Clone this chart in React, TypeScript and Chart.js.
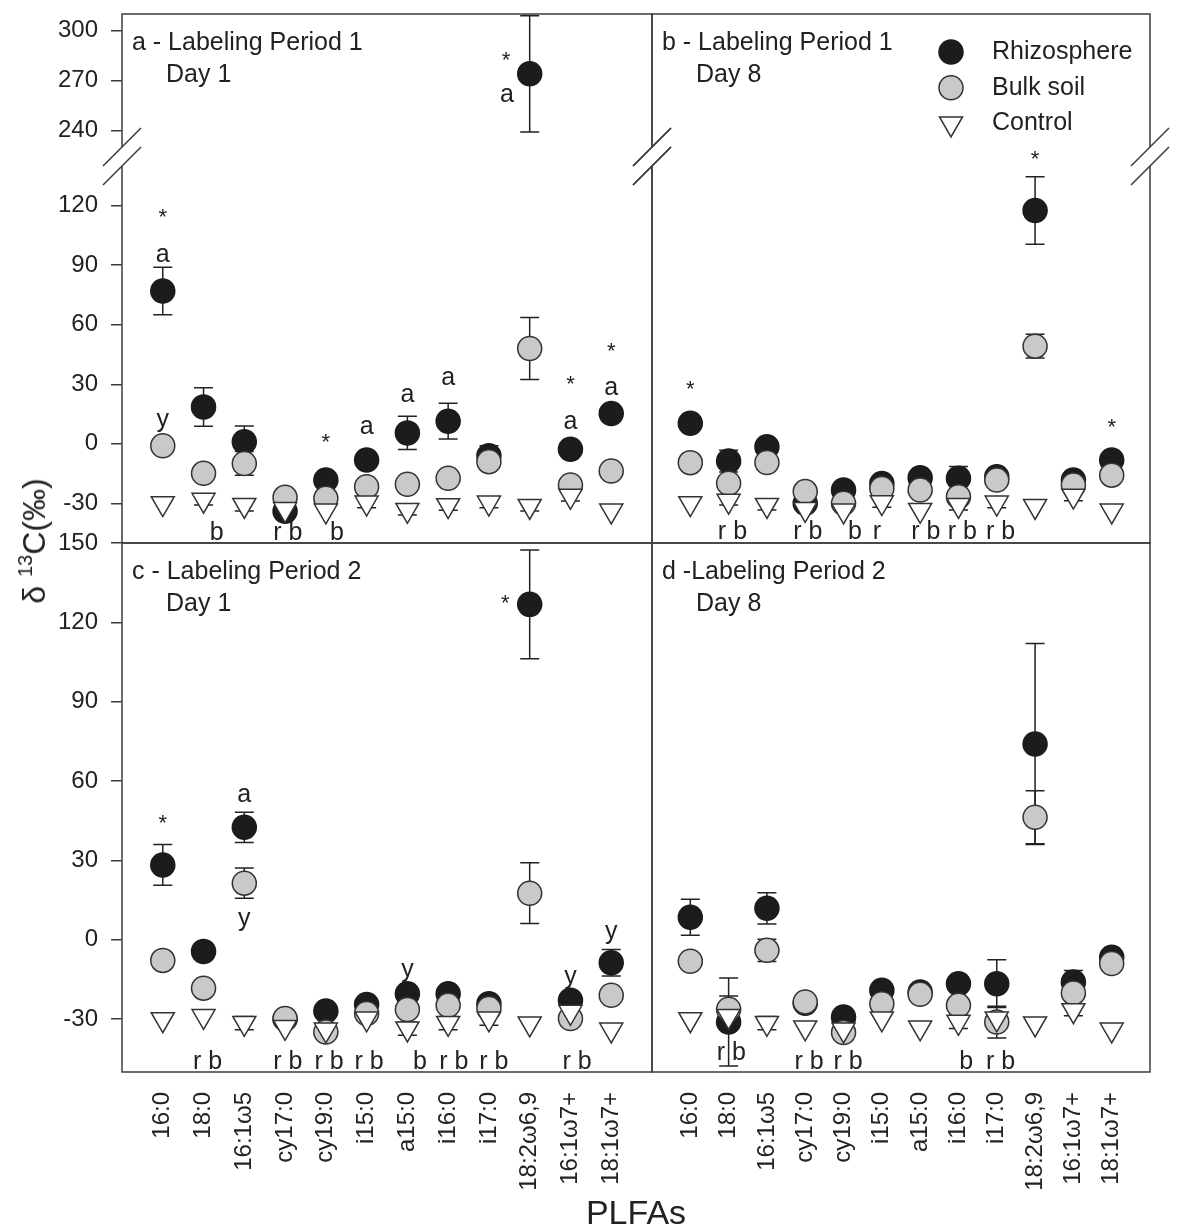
import React, { useEffect, useRef } from 'react';
import { Chart, registerables } from 'chart.js';

Chart.register(...registerables);

const FONT = '"Liberation Sans", Arial, Helvetica, sans-serif';
const TEXT = '#222222';
const W = 1194;
const H = 1231;

// ---------------- data ----------------
const categories = ['16:0', '18:0', '16:1ω5', 'cy17:0', 'cy19:0', 'i15:0', 'a15:0', 'i16:0', 'i17:0', '18:2ω6,9', '16:1ω7+', '18:1ω7+'];
const seriesNames = ['Rhizosphere', 'Bulk soil', 'Control'];
const ticksUpper = [240, 270, 300];
const ticksLowerTop = [-30, 0, 30, 60, 90, 120];
const ticksBottom = [-30, 0, 30, 60, 90, 120, 150];

// Panel a - Labeling Period 1, Day 1
const aRhizo = [77, 18.6, 1, -34, -18.3, -8.2, 5.5, 11.4, -6, 274, -2.7, 15.3];
const aRhizoErr = [12, 9.7, 8, 0, 0, 0, 8.4, 9, 5, 35, 0, 0];
const aBulk = [-1, -14.9, -9.9, -27, -27.5, -21.6, -20.4, -17.4, -9, 48, -20.8, -13.7];
const aBulkErr = [0, 3, 6, 0, 0, 0, 0, 0, 0, 15.6, 0, 0];
const aControl = [-30, -28.3, -30.9, -33, -33.7, -29.7, -33.4, -31, -29.7, -31.4, -26.3, -33.7];
const aControlErr = [0, 2.5, 3, 0, 0, 2.5, 2.5, 2.5, 2.5, 2.5, 2.5, 0];

// Panel b - Labeling Period 1, Day 8
const bRhizo = [10.3, -8.7, -1.5, -30, -23.3, -20, -17.1, -17.4, -16.6, 117.6, -18.3, -8.2];
const bRhizoErr = [0, 5.5, 0, 0, 0, 0, 0, 6, 0, 17, 0, 0];
const bBulk = [-9.5, -19.9, -9.4, -24.1, -30, -22.5, -23.3, -26.7, -18.3, 49.2, -20.8, -15.8];
const bBulkErr = [0, 0, 3, 0, 0, 0, 0, 0, 3, 6, 0, 0];
const bControl = [-30, -28.8, -30.9, -32.9, -33.7, -29.5, -33.4, -30.9, -29.7, -31.4, -26.2, -33.7];
const bControlErr = [0, 2, 2.5, 0, 0, 2.5, 0, 2.5, 2.5, 0, 2.5, 0];

// Panel c - Labeling Period 2, Day 1
const cRhizo = [28.3, -4.4, 42.5, -30, -26.9, -24.5, -20.4, -20.4, -24.2, 126.8, -22.9, -8.7];
const cRhizoErr = [7.7, 2, 5.7, 0, 0, 0, 0, 0, 0, 20.6, 3, 5];
const cBulk = [-7.8, -18.3, 21.4, -29.8, -34.9, -27.9, -26.4, -24.8, -26, 17.6, -29.8, -21];
const cBulkErr = [0, 0, 5.7, 0, 0, 0, 0, 0, 0, 11.5, 0, 0];
const cControl = [-30.1, -28.9, -31.5, -33, -34, -29.8, -33.6, -31.5, -29.8, -31.7, -27.3, -34];
const cControlErr = [0, 0, 2.5, 0, 0, 0, 2.5, 2.5, 2.5, 0, 0, 0];

// Panel d - Labeling Period 2, Day 8
const dRhizo = [8.5, -31.1, 11.9, -24, -29.2, -19.1, -19.8, -16.6, -16.6, 74, -16, -6.6];
const dRhizoErr = [6.8, 16.6, 5.9, 0, 0, 0, 0, 0, 9, 38, 4.4, 0];
const dBulk = [-8.1, -26.3, -4, -23.5, -35.1, -24.2, -20.6, -24.8, -31.1, 46.3, -20.1, -9];
const dBulkErr = [0, 5, 4.2, 0, 0, 0, 0, 0, 6, 10, 0, 0];
const dControl = [-30.1, -28.9, -31.5, -33.2, -34, -29.8, -33.2, -31.1, -29.8, -31.7, -26.7, -34];
const dControlErr = [0, 0, 2.5, 0, 0, 0, 0, 2.5, 0, 0, 2, 0];

// significance annotations: category index (fractional), value, text
type Note = { i: number; v: number; t: string };
const aNotes: Note[] = [
  { i: 0, v: 113.6, t: '*' }, { i: 0, v: 95, t: 'a' }, { i: 0, v: 11.9, t: 'y' },
  { i: 1.32, v: -45, t: 'b' }, { i: 3.07, v: -45, t: 'r b' },
  { i: 4, v: 0.4, t: '*' }, { i: 4.27, v: -45, t: 'b' },
  { i: 5, v: 8.6, t: 'a' }, { i: 6, v: 24.5, t: 'a' }, { i: 7, v: 33.2, t: 'a' },
  { i: 8.42, v: 282, t: '*' }, { i: 8.44, v: 261, t: 'a' },
  { i: 10, v: 29.5, t: '*' }, { i: 10, v: 11.1, t: 'a' },
  { i: 11, v: 46.3, t: '*' }, { i: 11, v: 27.9, t: 'a' },
];
const bNotes: Note[] = [
  { i: 0, v: 27, t: '*' }, { i: 1.1, v: -44.3, t: 'r b' }, { i: 3.07, v: -44.3, t: 'r b' },
  { i: 4.3, v: -44.3, t: 'b' }, { i: 4.87, v: -44.3, t: 'r' },
  { i: 6.15, v: -44.3, t: 'r b' }, { i: 7.1, v: -44.3, t: 'r b' }, { i: 8.1, v: -44.3, t: 'r b' },
  { i: 9, v: 143, t: '*' }, { i: 11, v: 8, t: '*' },
];
const cNotes: Note[] = [
  { i: 0, v: 43.8, t: '*' }, { i: 1.1, v: -46.2, t: 'r b' },
  { i: 2, v: 54.5, t: 'a' }, { i: 2, v: 7.9, t: 'y' },
  { i: 3.07, v: -46.2, t: 'r b' }, { i: 4.08, v: -46.2, t: 'r b' }, { i: 5.06, v: -46.2, t: 'r b' },
  { i: 6, v: -11.6, t: 'y' }, { i: 6.31, v: -46.2, t: 'b' },
  { i: 7.14, v: -46.2, t: 'r b' }, { i: 8.12, v: -46.2, t: 'r b' },
  { i: 8.4, v: 126.9, t: '*' },
  { i: 10, v: -14.1, t: 'y' }, { i: 10.16, v: -46.2, t: 'r b' },
  { i: 11, v: 2.9, t: 'y' },
];
const dNotes: Note[] = [
  { i: 1.07, v: -43, t: 'r b' }, { i: 3.1, v: -46.2, t: 'r b' }, { i: 4.12, v: -46.2, t: 'r b' },
  { i: 7.2, v: -46.2, t: 'b' }, { i: 8.1, v: -46.2, t: 'r b' },
];

const aTitle = ['a - Labeling Period 1', 'Day 1'];
const bTitle = ['b - Labeling Period 1', 'Day 8'];
const cTitle = ['c - Labeling Period 2', 'Day 1'];
const dTitle = ['d -Labeling Period 2', 'Day 8'];

// ---------------- layout ----------------
const PL = 122; // left plot edge
const PM = 652; // middle divider
const PR = 1150; // right plot edge
const PT = 14; // top
const BRK_HI = 147; // bottom of upper segment
const BRK_LO = 166; // top of lower segment
const PMY = 543; // middle horizontal divider
const XAXIS_H = 159; // bottom axis height => plot bottom 1072

type Series = { rhizo: number[]; rhizoErr: number[]; bulk: number[]; bulkErr: number[]; control: number[]; controlErr: number[] };
type Spec = {
  key: string;
  part: 'upper' | 'lower' | 'all';
  pad: { left: number; top: number; right: number; bottom: number };
  yMin: number; yMax: number; yTicks: number[] | null; showX: boolean;
  series: Series; notes: Note[]; title: string[] | null; legend: boolean;
  frameTop: boolean; frameBottom: boolean; breaks: boolean;
};

const panelA: Series = { rhizo: aRhizo, rhizoErr: aRhizoErr, bulk: aBulk, bulkErr: aBulkErr, control: aControl, controlErr: aControlErr };
const panelB: Series = { rhizo: bRhizo, rhizoErr: bRhizoErr, bulk: bBulk, bulkErr: bBulkErr, control: bControl, controlErr: bControlErr };
const panelC: Series = { rhizo: cRhizo, rhizoErr: cRhizoErr, bulk: cBulk, bulkErr: cBulkErr, control: cControl, controlErr: cControlErr };
const panelD: Series = { rhizo: dRhizo, rhizoErr: dRhizoErr, bulk: dBulk, bulkErr: dBulkErr, control: dControl, controlErr: dControlErr };

const specs: Spec[] = [
  { key: 'aU', part: 'upper', pad: { left: 0, top: PT, right: W - PM, bottom: H - BRK_HI }, yMin: 230, yMax: 310, yTicks: ticksUpper, showX: false, series: panelA, notes: aNotes, title: aTitle, legend: false, frameTop: true, frameBottom: false, breaks: false },
  { key: 'aL', part: 'lower', pad: { left: 0, top: BRK_LO, right: W - PM, bottom: H - PMY }, yMin: -50, yMax: 140, yTicks: ticksLowerTop, showX: false, series: panelA, notes: aNotes, title: null, legend: false, frameTop: false, frameBottom: true, breaks: true },
  { key: 'bU', part: 'upper', pad: { left: PM, top: PT, right: W - PR, bottom: H - BRK_HI }, yMin: 230, yMax: 310, yTicks: null, showX: false, series: panelB, notes: bNotes, title: bTitle, legend: true, frameTop: true, frameBottom: false, breaks: false },
  { key: 'bL', part: 'lower', pad: { left: PM, top: BRK_LO, right: W - PR, bottom: H - PMY }, yMin: -50, yMax: 140, yTicks: null, showX: false, series: panelB, notes: bNotes, title: null, legend: false, frameTop: false, frameBottom: true, breaks: true },
  { key: 'c', part: 'all', pad: { left: 0, top: PMY, right: W - PM, bottom: 0 }, yMin: -50, yMax: 150, yTicks: ticksBottom, showX: true, series: panelC, notes: cNotes, title: cTitle, legend: false, frameTop: true, frameBottom: true, breaks: false },
  { key: 'd', part: 'all', pad: { left: PM, top: PMY, right: W - PR, bottom: 0 }, yMin: -50, yMax: 150, yTicks: null, showX: true, series: panelD, notes: dNotes, title: dTitle, legend: false, frameTop: true, frameBottom: true, breaks: false },
];

const RHIZO_COLOR = '#1c1c1c';
const BULK_COLOR = '#c9c9c9';
const EDGE = '#333333';
const CIRCLE_R = 12;
const TRI_R = 13.3;

function drawMarker(ctx: CanvasRenderingContext2D, kind: number, x: number, y: number) {
  ctx.save();
  ctx.lineWidth = 1.5;
  ctx.beginPath();
  if (kind === 2) {
    const s = TRI_R * Math.sin(Math.PI / 3);
    ctx.moveTo(x, y + TRI_R);
    ctx.lineTo(x - s, y - TRI_R / 2);
    ctx.lineTo(x + s, y - TRI_R / 2);
    ctx.closePath();
    ctx.fillStyle = '#ffffff';
    ctx.strokeStyle = EDGE;
  } else {
    ctx.arc(x, y, CIRCLE_R, 0, Math.PI * 2);
    ctx.fillStyle = kind === 0 ? RHIZO_COLOR : BULK_COLOR;
    ctx.strokeStyle = kind === 0 ? RHIZO_COLOR : EDGE;
  }
  ctx.fill();
  ctx.stroke();
  ctx.restore();
}

function makePlugin(spec: Spec) {
  const inPart = (v: number) => (spec.part === 'upper' ? v >= 200 : spec.part === 'lower' ? v < 200 : true);
  return {
    id: 'deco_' + spec.key,
    beforeDatasetsDraw(chart: any) {
      const ctx: CanvasRenderingContext2D = chart.ctx;
      const xs = chart.scales.x;
      const ys = chart.scales.y;
      ctx.save();
      ctx.strokeStyle = '#222';
      ctx.lineWidth = 1.5;
      chart.data.datasets.forEach((ds: any) => {
        ds.data.forEach((p: any) => {
          if (!p.e) return;
          const x = xs.getPixelForValue(p.x);
          const y1 = ys.getPixelForValue(p.y - p.e);
          const y2 = ys.getPixelForValue(p.y + p.e);
          ctx.beginPath();
          ctx.moveTo(x, y1); ctx.lineTo(x, y2);
          ctx.moveTo(x - 9.5, y1); ctx.lineTo(x + 9.5, y1);
          ctx.moveTo(x - 9.5, y2); ctx.lineTo(x + 9.5, y2);
          ctx.stroke();
        });
      });
      ctx.restore();
    },
    afterDraw(chart: any) {
      const ctx: CanvasRenderingContext2D = chart.ctx;
      const { left, right, top, bottom } = chart.chartArea;
      const xs = chart.scales.x;
      const ys = chart.scales.y;
      ctx.save();
      // frame
      ctx.strokeStyle = '#3c3c3c';
      ctx.lineWidth = 1.5;
      ctx.beginPath();
      ctx.moveTo(left, top); ctx.lineTo(left, bottom);
      ctx.moveTo(right, top); ctx.lineTo(right, bottom);
      if (spec.frameTop) { ctx.moveTo(left - 0.75, top); ctx.lineTo(right + 0.75, top); }
      if (spec.frameBottom) { ctx.moveTo(left - 0.75, bottom); ctx.lineTo(right + 0.75, bottom); }
      ctx.stroke();
      if (spec.breaks) {
        const g = BRK_LO - BRK_HI;
        ctx.beginPath();
        [left, right].forEach((x) => {
          ctx.moveTo(x - 19, top); ctx.lineTo(x + 19, top - 2 * g);
          ctx.moveTo(x - 19, top + g); ctx.lineTo(x + 19, top - g);
        });
        ctx.stroke();
      }
      // notes
      ctx.fillStyle = TEXT;
      ctx.textAlign = 'center';
      ctx.textBaseline = 'middle';
      spec.notes.forEach((n) => {
        if (!inPart(n.v)) return;
        ctx.font = n.t === '*' ? `22px ${FONT}` : `25px ${FONT}`;
        ctx.fillText(n.t, xs.getPixelForValue(n.i), ys.getPixelForValue(n.v));
      });
      // panel title
      if (spec.title) {
        ctx.textAlign = 'left';
        ctx.font = `25px ${FONT}`;
        ctx.fillText(spec.title[0], left + 10, top + 29);
        ctx.fillText(spec.title[1], left + 44, top + 61);
      }
      // legend
      if (spec.legend) {
        ctx.textAlign = 'left';
        ctx.font = `25px ${FONT}`;
        seriesNames.forEach((name, k) => {
          const y = top + 38 + k * 35.8;
          drawMarker(ctx, k, left + 299, y);
          ctx.fillStyle = TEXT;
          ctx.fillText(name, left + 340, y);
        });
      }
      ctx.restore();
    },
  };
}

function buildConfig(spec: Spec): any {
  const inPart = (v: number) => (spec.part === 'upper' ? v >= 200 : spec.part === 'lower' ? v < 200 : true);
  const mk = (vals: number[], errs: number[]) =>
    vals.map((v, i) => ({ x: i, y: v, e: errs[i] })).filter((p) => inPart(p.y));
  const s = spec.series;
  const datasets = [
    {
      label: seriesNames[2], data: mk(s.control, s.controlErr),
      pointStyle: 'triangle', pointRotation: 180, pointRadius: TRI_R, pointHoverRadius: TRI_R,
      pointBackgroundColor: '#ffffff', pointBorderColor: EDGE, pointBorderWidth: 1.5,
      backgroundColor: '#ffffff', borderColor: EDGE, clip: false,
    },
    {
      label: seriesNames[1], data: mk(s.bulk, s.bulkErr),
      pointStyle: 'circle', pointRadius: CIRCLE_R, pointHoverRadius: CIRCLE_R,
      pointBackgroundColor: BULK_COLOR, pointBorderColor: EDGE, pointBorderWidth: 1.5,
      backgroundColor: BULK_COLOR, borderColor: EDGE, clip: false,
    },
    {
      label: seriesNames[0], data: mk(s.rhizo, s.rhizoErr),
      pointStyle: 'circle', pointRadius: CIRCLE_R, pointHoverRadius: CIRCLE_R,
      pointBackgroundColor: RHIZO_COLOR, pointBorderColor: RHIZO_COLOR, pointBorderWidth: 1.5,
      backgroundColor: RHIZO_COLOR, borderColor: RHIZO_COLOR, clip: false,
    },
  ];
  const yTicks = spec.yTicks;
  const showX = spec.showX;
  return {
    type: 'scatter',
    data: { datasets },
    options: {
      responsive: false,
      maintainAspectRatio: false,
      animation: false,
      events: [],
      devicePixelRatio: 1,
      layout: { padding: spec.pad },
      plugins: { legend: { display: false }, tooltip: { enabled: false }, title: { display: false } },
      scales: {
        x: {
          type: 'linear', min: -1, max: 12, position: 'bottom',
          display: showX,
          afterBuildTicks: (sc: any) => { sc.ticks = categories.map((_, i) => ({ value: i })); },
          afterFit: (sc: any) => {
            sc.height = showX ? XAXIS_H : 0;
            sc.paddingLeft = 0; sc.paddingRight = 0; sc.paddingTop = 0; sc.paddingBottom = 0;
          },
          ticks: {
            autoSkip: false, minRotation: 90, maxRotation: 90, padding: 20,
            color: TEXT, font: { family: FONT, size: 24, lineHeight: 1 },
            callback: (v: any) => categories[v] ?? '',
          },
          grid: { display: false, drawTicks: false },
          border: { display: false },
        },
        y: {
          type: 'linear', min: spec.yMin, max: spec.yMax, position: 'left',
          display: !!yTicks,
          afterBuildTicks: (sc: any) => { if (yTicks) sc.ticks = yTicks.map((v) => ({ value: v })); },
          afterFit: (sc: any) => {
            sc.width = yTicks ? PL : 0;
            sc.paddingLeft = 0; sc.paddingRight = 0; sc.paddingTop = 0; sc.paddingBottom = 0;
          },
          ticks: { autoSkip: false, padding: 13, color: TEXT, font: { family: FONT, size: 24, lineHeight: 1 } },
          grid: { display: true, drawOnChartArea: false, drawTicks: true, tickLength: 11, color: '#3c3c3c', lineWidth: 1.5 },
          border: { display: false },
        },
      },
    },
    plugins: [makePlugin(spec)],
  };
}

function PanelChart({ spec }: { spec: Spec }) {
  const ref = useRef<HTMLCanvasElement>(null);
  useEffect(() => {
    if (!ref.current) return;
    const chart = new Chart(ref.current, buildConfig(spec));
    return () => chart.destroy();
  }, [spec]);
  return (
    <canvas
      ref={ref}
      width={W}
      height={H}
      style={{ position: 'absolute', left: 0, top: 0, width: W, height: H }}
    />
  );
}

export default function App() {
  return (
    <div style={{ position: 'absolute', left: 0, top: 0, width: W, height: H, background: '#ffffff', overflow: 'hidden' }}>
      {specs.map((sp) => (
        <PanelChart key={sp.key} spec={sp} />
      ))}
      <div
        style={{
          position: 'absolute', left: 34, top: 541,
          transform: 'translate(-50%, -50%) rotate(-90deg)',
          fontFamily: FONT, fontSize: 32, color: TEXT, whiteSpace: 'nowrap', lineHeight: 1,
        }}
      >
        δ <span style={{ fontSize: 20, position: 'relative', top: -13 }}>13</span>C(‰)
      </div>
      <div
        style={{
          position: 'absolute', left: 636, top: 1212,
          transform: 'translate(-50%, -50%)',
          fontFamily: FONT, fontSize: 34, color: TEXT, whiteSpace: 'nowrap', lineHeight: 1,
        }}
      >
        PLFAs
      </div>
    </div>
  );
}
